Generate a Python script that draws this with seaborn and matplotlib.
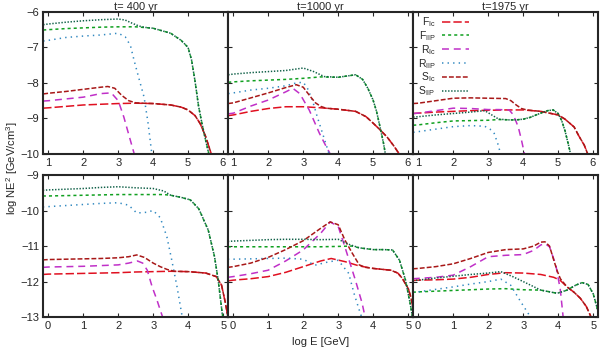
import pandas as pd
import matplotlib
matplotlib.use('Agg')
import matplotlib.pyplot as plt
import seaborn as sns

sns.set_style('ticks')
plt.rcParams['font.family'] = ['Liberation Sans', 'DejaVu Sans']
plt.rcParams['mathtext.fontset'] = 'custom'
plt.rcParams['mathtext.rm'] = 'Liberation Sans'
plt.rcParams['mathtext.it'] = 'Liberation Sans:italic'
plt.rcParams['lines.scale_dashes'] = False

# --- curve names / legend labels ---
names = ['F_Ic', 'F_IIP', 'R_Ic', 'R_IIP', 'S_Ic', 'S_IIP']
labels = [r'F$_{\rm Ic}$', r'F$_{\rm IIP}$', r'R$_{\rm Ic}$',
          r'R$_{\rm IIP}$', r'S$_{\rm Ic}$', r'S$_{\rm IIP}$']
titles = ['t= 400 yr', 't=1000 yr', 't=1975 yr']

# ---------------- top row ----------------
# t = 400 yr
top400_FIc_x = [0.85, 1, 1.5, 2, 2.5, 3, 3.5, 4, 4.5, 4.8, 5, 5.2, 5.35, 5.5, 5.6, 5.7]
top400_FIc_y = [-8.71, -8.7, -8.66, -8.62, -8.6, -8.58, -8.57, -8.58, -8.62, -8.68, -8.76, -8.92, -9.15, -9.5, -9.8, -10.1]
top400_FIIP_x = [0.85, 1, 1.5, 2, 2.5, 3, 3.5, 4, 4.5, 4.8, 5, 5.1, 5.2, 5.3, 5.4, 5.5, 5.62]
top400_FIIP_y = [-6.51, -6.5, -6.47, -6.45, -6.43, -6.42, -6.42, -6.46, -6.6, -6.8, -7.0, -7.35, -7.95, -8.65, -9.15, -9.6, -10.1]
top400_RIc_x = [0.85, 1, 1.5, 2, 2.5, 2.8, 3.0, 3.16, 3.3, 3.45, 3.5]
top400_RIc_y = [-8.51, -8.5, -8.45, -8.4, -8.3, -8.28, -8.5, -8.96, -9.45, -9.97, -10.15]
top400_RIIP_x = [0.85, 1, 1.5, 2, 2.5, 3, 3.2, 3.35, 3.45, 3.6, 3.74, 3.85, 3.95, 4.02]
top400_RIIP_y = [-6.82, -6.8, -6.72, -6.68, -6.65, -6.6, -6.7, -6.95, -7.35, -7.9, -8.4, -9.1, -9.9, -10.2]
top400_SIc_x = [0.85, 1, 1.5, 2, 2.5, 2.7, 2.9, 3.1, 3.3, 3.5, 3.7, 4, 4.5, 4.8, 5, 5.2, 5.35, 5.5, 5.6, 5.7]
top400_SIc_y = [-8.31, -8.29, -8.24, -8.18, -8.12, -8.1, -8.15, -8.35, -8.5, -8.56, -8.57, -8.58, -8.62, -8.68, -8.76, -8.92, -9.15, -9.5, -9.8, -10.1]
top400_SIIP_x = [0.85, 1, 1.5, 2, 2.5, 3, 3.2, 3.4, 3.6, 3.8, 4, 4.5, 4.8, 5, 5.1, 5.2, 5.3, 5.4, 5.5, 5.62]
top400_SIIP_y = [-6.36, -6.34, -6.29, -6.25, -6.22, -6.2, -6.23, -6.32, -6.4, -6.44, -6.46, -6.6, -6.8, -7.0, -7.35, -7.95, -8.65, -9.15, -9.6, -10.1]

# t = 1000 yr
top1000_FIc_x = [0.85, 1, 1.5, 2, 2.5, 3, 3.5, 4, 4.5, 4.8, 5, 5.2, 5.4, 5.6, 5.75, 5.85]
top1000_FIc_y = [-8.92, -8.9, -8.8, -8.72, -8.67, -8.67, -8.7, -8.74, -8.8, -8.95, -9.13, -9.32, -9.52, -9.78, -10.0, -10.2]
top1000_FIIP_x = [0.85, 1, 1.5, 2, 2.5, 3, 3.5, 4, 4.5, 4.7, 4.85, 5, 5.1, 5.2, 5.3, 5.37]
top1000_FIIP_y = [-7.98, -7.97, -7.94, -7.92, -7.9, -7.87, -7.83, -7.84, -7.77, -7.9, -8.15, -8.48, -8.8, -9.24, -9.7, -10.1]
top1000_RIc_x = [0.85, 1, 1.5, 2, 2.5, 2.7, 2.9, 3.17, 3.3, 3.46, 3.62, 3.8]
top1000_RIc_y = [-8.87, -8.85, -8.65, -8.48, -8.25, -8.15, -8.3, -8.76, -9.05, -9.41, -9.72, -10.05]
top1000_RIIP_x = [0.85, 1, 1.5, 2, 2.5, 2.8, 3.0, 3.12, 3.26, 3.4, 3.55, 3.66, 3.77]
top1000_RIIP_y = [-8.3, -8.28, -8.2, -8.15, -8.08, -8.0, -7.98, -8.15, -8.48, -8.95, -9.41, -9.75, -10.1]
top1000_SIc_x = [0.85, 1, 1.5, 2, 2.5, 2.8, 3.0, 3.2, 3.35, 3.5, 3.65, 4, 4.5, 4.8, 5, 5.2, 5.4, 5.6, 5.75, 5.85]
top1000_SIc_y = [-8.58, -8.56, -8.42, -8.28, -8.13, -8.05, -8.12, -8.38, -8.56, -8.66, -8.71, -8.74, -8.8, -8.95, -9.13, -9.32, -9.52, -9.78, -10.0, -10.2]
top1000_SIIP_x = [0.85, 1, 1.5, 2, 2.5, 3, 3.3, 3.6, 4, 4.5, 4.7, 4.85, 5, 5.1, 5.2, 5.3, 5.37]
top1000_SIIP_y = [-7.77, -7.75, -7.71, -7.68, -7.65, -7.58, -7.68, -7.82, -7.84, -7.77, -7.9, -8.15, -8.48, -8.8, -9.24, -9.7, -10.1]

# t = 1975 yr
top1975_FIc_x = [0.85, 1, 1.5, 2, 2.5, 3, 3.5, 4, 4.5, 5, 5.2, 5.46, 5.6, 5.75, 5.87]
top1975_FIc_y = [-8.86, -8.85, -8.82, -8.8, -8.78, -8.77, -8.76, -8.76, -8.8, -8.9, -9.02, -9.24, -9.5, -9.75, -10.05]
top1975_FIIP_x = [0.85, 1, 1.5, 2, 2.5, 3, 3.3, 3.6, 3.8, 4.0, 4.2, 4.5, 4.7, 4.86, 5.0, 5.1, 5.2, 5.3, 5.37]
top1975_FIIP_y = [-9.19, -9.18, -9.12, -9.07, -9.06, -9.05, -9.03, -9.04, -9.04, -9.02, -8.97, -8.85, -8.78, -8.76, -8.86, -9.05, -9.35, -9.75, -10.05]
top1975_RIc_x = [0.85, 1, 1.5, 2, 2.5, 3, 3.3, 3.6, 3.72, 3.86, 3.95, 4.05]
top1975_RIc_y = [-8.86, -8.85, -8.78, -8.71, -8.72, -8.75, -8.75, -8.76, -8.9, -9.24, -9.6, -10.05]
top1975_RIIP_x = [0.85, 1, 1.5, 2, 2.5, 2.9, 3.05, 3.17, 3.27, 3.37]
top1975_RIIP_y = [-9.39, -9.37, -9.3, -9.23, -9.2, -9.22, -9.3, -9.42, -9.7, -10.05]
top1975_SIc_x = [0.85, 1, 1.5, 2, 2.5, 3, 3.5, 3.65, 3.8, 3.95, 4.1, 4.5, 5, 5.2, 5.46, 5.6, 5.75, 5.87]
top1975_SIc_y = [-8.58, -8.57, -8.5, -8.43, -8.42, -8.43, -8.44, -8.5, -8.62, -8.72, -8.76, -8.8, -8.9, -9.02, -9.24, -9.5, -9.75, -10.05]
top1975_SIIP_x = [0.85, 1, 1.5, 2, 2.5, 2.9, 3.1, 3.3, 3.6, 3.8, 4.0, 4.2, 4.5, 4.7, 4.86, 5.0, 5.1, 5.2, 5.3, 5.37]
top1975_SIIP_y = [-8.96, -8.95, -8.9, -8.86, -8.82, -8.78, -8.9, -9.02, -9.04, -9.04, -9.02, -8.97, -8.85, -8.78, -8.76, -8.86, -9.05, -9.35, -9.75, -10.05]

# ---------------- bottom row ----------------
# t = 400 yr
bot400_FIc_x = [-0.15, 0, 0.5, 1, 1.5, 2, 2.5, 3, 3.5, 4, 4.5, 4.8, 4.95, 5.06, 5.15]
bot400_FIc_y = [-11.8, -11.79, -11.78, -11.77, -11.76, -11.75, -11.73, -11.72, -11.71, -11.72, -11.76, -11.86, -12.1, -12.6, -13.1]
bot400_FIIP_x = [-0.15, 0, 0.5, 1, 1.5, 2, 2.5, 3, 3.3, 3.5, 3.8, 4.06, 4.3, 4.57, 4.75, 4.86, 4.97, 5.02]
bot400_FIIP_y = [-9.59, -9.59, -9.58, -9.57, -9.56, -9.55, -9.55, -9.55, -9.55, -9.57, -9.63, -9.7, -9.95, -10.55, -11.3, -12.0, -12.9, -13.2]
bot400_RIc_x = [-0.15, 0, 0.5, 1, 1.5, 2, 2.3, 2.55, 2.7, 2.83, 2.97, 3.1, 3.2, 3.32]
bot400_RIc_y = [-11.6, -11.59, -11.58, -11.57, -11.55, -11.53, -11.48, -11.42, -11.48, -11.68, -12.15, -12.5, -12.8, -13.15]
bot400_RIIP_x = [-0.15, 0, 0.5, 1, 1.5, 2, 2.3, 2.53, 2.8, 3.0, 3.2, 3.39, 3.53, 3.68, 3.82, 3.9]
bot400_RIIP_y = [-9.9, -9.89, -9.86, -9.83, -9.8, -9.78, -9.85, -10.07, -10.05, -10.0, -10.2, -10.74, -11.4, -12.15, -12.95, -13.3]
bot400_SIc_x = [-0.15, 0, 0.5, 1, 1.5, 2, 2.3, 2.53, 2.75, 3.0, 3.2, 3.4, 3.6, 4, 4.5, 4.8, 4.95, 5.06, 5.15]
bot400_SIc_y = [-11.39, -11.38, -11.37, -11.36, -11.35, -11.33, -11.3, -11.25, -11.32, -11.48, -11.58, -11.66, -11.71, -11.72, -11.76, -11.86, -12.1, -12.6, -13.1]
bot400_SIIP_x = [-0.15, 0, 0.5, 1, 1.5, 2, 2.5, 3, 3.3, 3.5, 3.8, 4.06, 4.3, 4.57, 4.75, 4.86, 4.97, 5.02]
bot400_SIIP_y = [-9.43, -9.42, -9.4, -9.38, -9.35, -9.33, -9.36, -9.38, -9.45, -9.57, -9.63, -9.7, -9.95, -10.55, -11.3, -12.0, -12.9, -13.2]

# t = 1000 yr
bot1000_FIc_x = [-0.15, 0, 0.5, 1, 1.5, 2, 2.5, 2.8, 3.2, 3.6, 4, 4.5, 4.7, 4.83, 5.0, 5.07, 5.17, 5.25]
bot1000_FIc_y = [-11.98, -11.96, -11.92, -11.86, -11.74, -11.58, -11.42, -11.35, -11.44, -11.56, -11.63, -11.68, -11.76, -11.91, -12.2, -12.43, -12.9, -13.2]
bot1000_FIIP_x = [-0.15, 0, 0.5, 1, 1.5, 2, 2.5, 3, 3.4, 3.6, 4, 4.3, 4.55, 4.75, 4.92, 5.05, 5.12, 5.18]
bot1000_FIIP_y = [-11.02, -11.02, -11.02, -11.02, -11.02, -11.02, -11.02, -11.01, -11.0, -11.05, -11.1, -11.1, -11.11, -11.4, -11.96, -12.6, -13.0, -13.2]
bot1000_RIc_x = [-0.15, 0, 0.5, 1, 1.5, 2, 2.5, 2.77, 3.0, 3.19, 3.49, 3.68, 3.8]
bot1000_RIc_y = [-11.88, -11.86, -11.78, -11.68, -11.42, -11.11, -10.64, -10.32, -10.45, -11.02, -11.96, -12.6, -13.15]
bot1000_RIIP_x = [-0.15, 0, 0.5, 1, 1.5, 2, 2.33, 2.7, 3.0, 3.3, 3.45, 3.6, 3.72]
bot1000_RIIP_y = [-11.37, -11.37, -11.36, -11.35, -11.34, -11.37, -11.54, -11.45, -11.4, -11.77, -12.33, -12.8, -13.15]
bot1000_SIc_x = [-0.15, 0, 0.5, 1, 1.5, 2, 2.5, 2.77, 3.0, 3.19, 3.4, 3.6, 3.78, 4, 4.5, 4.7, 4.83, 5.0, 5.07, 5.17, 5.25]
bot1000_SIc_y = [-11.6, -11.58, -11.48, -11.32, -11.1, -10.85, -10.5, -10.32, -10.4, -10.83, -11.2, -11.53, -11.6, -11.63, -11.68, -11.76, -11.91, -12.2, -12.43, -12.9, -13.2]
bot1000_SIIP_x = [-0.15, 0, 0.5, 1, 1.5, 2, 2.5, 3, 3.3, 3.6, 4, 4.3, 4.55, 4.75, 4.92, 5.05, 5.12, 5.18]
bot1000_SIIP_y = [-10.87, -10.86, -10.84, -10.82, -10.81, -10.81, -10.82, -10.81, -10.95, -11.05, -11.1, -11.1, -11.11, -11.4, -11.96, -12.6, -13.0, -13.2]

# t = 1975 yr
bot1975_FIc_x = [-0.15, 0, 0.5, 1, 1.5, 2, 2.5, 3, 3.5, 3.87, 4.05, 4.25, 4.45, 4.63, 4.8, 4.91, 5.0]
bot1975_FIc_y = [-11.97, -11.96, -11.95, -11.93, -11.88, -11.8, -11.75, -11.76, -11.8, -11.88, -11.96, -12.15, -12.3, -12.47, -12.7, -12.94, -13.15]
bot1975_FIIP_x = [-0.15, 0, 0.5, 1, 1.5, 2, 2.5, 3, 3.5, 3.97, 4.25, 4.5, 4.68, 4.85, 5.0, 5.1, 5.2]
bot1975_FIIP_y = [-12.3, -12.29, -12.27, -12.25, -12.23, -12.21, -12.2, -12.23, -12.24, -12.33, -12.24, -12.1, -12.03, -12.08, -12.35, -12.71, -13.1]
bot1975_RIc_x = [-0.15, 0, 0.5, 1, 1.5, 2, 2.5, 3, 3.3, 3.5, 3.62, 3.75, 3.93, 4.06, 4.15]
bot1975_RIc_y = [-11.92, -11.91, -11.88, -11.82, -11.58, -11.3, -11.26, -11.24, -11.12, -10.97, -10.93, -11.02, -11.53, -12.24, -13.1]
bot1975_RIIP_x = [-0.15, 0, 0.5, 1, 1.5, 2, 2.36, 2.64, 2.93, 3.17, 3.25]
bot1975_RIIP_y = [-12.3, -12.29, -12.22, -12.15, -12.07, -12.0, -11.93, -12.1, -12.57, -12.94, -13.1]
bot1975_SIc_x = [-0.15, 0, 0.5, 1, 1.5, 2, 2.5, 3, 3.3, 3.5, 3.62, 3.75, 3.87, 3.97, 4.06, 4.25, 4.45, 4.63, 4.8, 4.91, 5.0]
bot1975_SIc_y = [-11.64, -11.63, -11.58, -11.5, -11.35, -11.18, -11.1, -11.08, -11.0, -10.89, -10.88, -11.0, -11.39, -11.7, -11.92, -12.15, -12.3, -12.47, -12.7, -12.94, -13.15]
bot1975_SIIP_x = [-0.15, 0, 0.5, 1, 1.5, 2, 2.36, 2.7, 3.0, 3.5, 3.97, 4.25, 4.5, 4.68, 4.85, 5.0, 5.1, 5.2]
bot1975_SIIP_y = [-11.97, -11.96, -11.9, -11.85, -11.8, -11.76, -11.72, -11.86, -12.0, -12.24, -12.33, -12.24, -12.1, -12.03, -12.08, -12.35, -12.71, -13.1]

# --- styles (gnuplot-like colours and dash patterns, in points) ---
colors = {'F_Ic': '#e01020', 'F_IIP': '#10a020', 'R_Ic': '#c030c8',
          'R_IIP': '#3088c0', 'S_Ic': '#a81818', 'S_IIP': '#106048'}
dashes = {'F_Ic': (6, 2.2), 'F_IIP': (2.2, 2.2), 'R_Ic': (5, 3.5),
          'R_IIP': (1, 3), 'S_Ic': (3.5, 1.5), 'S_IIP': (1, 1.2)}


def panel_frame(curves):
    rows = []
    for name, (xs, ys) in zip(names, curves):
        for x, y in zip(xs, ys):
            rows.append({'logE': x, 'logNE2': y, 'curve': name})
    return pd.DataFrame(rows)


top_panels = [
    [(top400_FIc_x, top400_FIc_y), (top400_FIIP_x, top400_FIIP_y), (top400_RIc_x, top400_RIc_y),
     (top400_RIIP_x, top400_RIIP_y), (top400_SIc_x, top400_SIc_y), (top400_SIIP_x, top400_SIIP_y)],
    [(top1000_FIc_x, top1000_FIc_y), (top1000_FIIP_x, top1000_FIIP_y), (top1000_RIc_x, top1000_RIc_y),
     (top1000_RIIP_x, top1000_RIIP_y), (top1000_SIc_x, top1000_SIc_y), (top1000_SIIP_x, top1000_SIIP_y)],
    [(top1975_FIc_x, top1975_FIc_y), (top1975_FIIP_x, top1975_FIIP_y), (top1975_RIc_x, top1975_RIc_y),
     (top1975_RIIP_x, top1975_RIIP_y), (top1975_SIc_x, top1975_SIc_y), (top1975_SIIP_x, top1975_SIIP_y)],
]
bot_panels = [
    [(bot400_FIc_x, bot400_FIc_y), (bot400_FIIP_x, bot400_FIIP_y), (bot400_RIc_x, bot400_RIc_y),
     (bot400_RIIP_x, bot400_RIIP_y), (bot400_SIc_x, bot400_SIc_y), (bot400_SIIP_x, bot400_SIIP_y)],
    [(bot1000_FIc_x, bot1000_FIc_y), (bot1000_FIIP_x, bot1000_FIIP_y), (bot1000_RIc_x, bot1000_RIc_y),
     (bot1000_RIIP_x, bot1000_RIIP_y), (bot1000_SIc_x, bot1000_SIc_y), (bot1000_SIIP_x, bot1000_SIIP_y)],
    [(bot1975_FIc_x, bot1975_FIc_y), (bot1975_FIIP_x, bot1975_FIIP_y), (bot1975_RIc_x, bot1975_RIc_y),
     (bot1975_RIIP_x, bot1975_RIIP_y), (bot1975_SIc_x, bot1975_SIc_y), (bot1975_SIIP_x, bot1975_SIIP_y)],
]

fig = plt.figure(figsize=(6, 3.5), dpi=100)
gs = fig.add_gridspec(2, 3, left=0.072, right=0.997, top=0.966, bottom=0.094,
                      wspace=0, hspace=0.148)

for row, panels in enumerate([top_panels, bot_panels]):
    for col, curves in enumerate(panels):
        ax = fig.add_subplot(gs[row, col])
        df = panel_frame(curves)
        sns.lineplot(data=df, x='logE', y='logNE2', hue='curve', hue_order=names,
                     style='curve', style_order=names, palette=colors, dashes=dashes,
                     estimator=None, sort=False, legend=False, lw=1.1, ax=ax)
        if row == 0:
            ax.set_xlim(0.85, 6.15)
            ax.set_ylim(-10, -6)
            ax.set_xticks(range(1, 7))
            ax.set_yticks(range(-10, -5))
            ax.set_title(titles[col], fontsize=8, pad=1.5)
        else:
            ax.set_xlim(-0.14, 5.14)
            ax.set_ylim(-13, -9)
            ax.set_xticks(range(0, 6))
            ax.set_yticks(range(-13, -8))
        ax.set_xlabel('')
        ax.set_ylabel('')
        ax.tick_params(direction='in', top=True, right=True, length=3, width=0.8,
                       labelsize=8, pad=3)
        if col > 0:
            ax.tick_params(labelleft=False)
        for sp in ax.spines.values():
            sp.set_linewidth(1.5)
        if row == 1 and col == 1:
            ax.set_xlabel('log E [GeV]', fontsize=8, labelpad=4)
        if row == 0 and col == 2:
            ax.legend(ax.get_lines()[:6], labels, loc='upper left',
                      bbox_to_anchor=(-0.01, 1.02), frameon=False, markerfirst=False,
                      fontsize=7.5, handlelength=2.6, labelspacing=0.0,
                      handletextpad=0.6, borderaxespad=0.2)

fig.text(0.02, 0.52, r'log NE$^2$ [GeV/cm$^3$]', rotation=90,
         ha='center', va='center', fontsize=8)

plt.savefig('out.png', dpi=100)
